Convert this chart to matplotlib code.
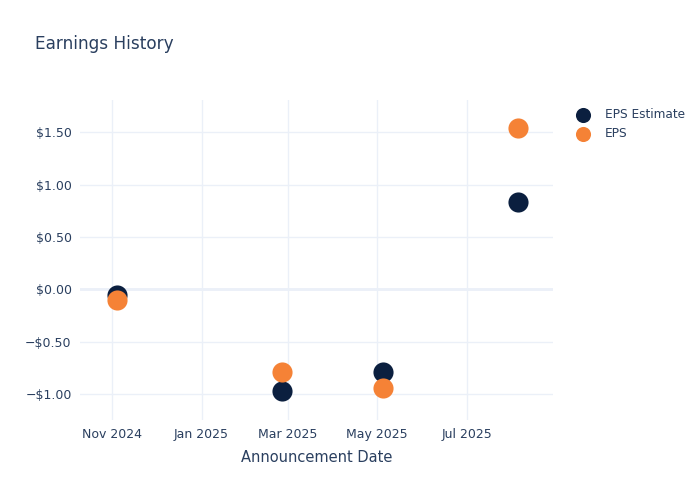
import matplotlib.pyplot as plt
import matplotlib.dates as mdates
import matplotlib.ticker as mticker
import pandas as pd

# earnings data
dates = pd.to_datetime(['2024-11-04', '2025-02-25', '2025-05-05', '2025-08-05'])
eps_estimate = [-0.05, -0.97, -0.79, 0.83]
eps_actual = [-0.10, -0.79, -0.94, 1.54]

NAVY = '#0b1f3f'
ORANGE = '#f58236'
TEXT = '#2a3f5f'
GRID = '#ebf0f8'

fig = plt.figure(figsize=(7, 5), dpi=100)
ax = fig.add_axes([80 / 700, 80 / 500, (553 - 80) / 700, (420 - 100) / 500])

ax.scatter(dates, eps_estimate, s=210, color=NAVY, label='EPS Estimate', zorder=3, linewidths=0)
ax.scatter(dates, eps_actual, s=210, color=ORANGE, label='EPS', zorder=4, linewidths=0)

ax.set_xlim(pd.Timestamp('2024-10-10'), pd.Timestamp('2025-08-29'))
ax.set_ylim(-1.25, 1.81)

ax.xaxis.set_major_locator(mdates.MonthLocator(bymonth=[1, 3, 5, 7, 11]))
ax.xaxis.set_major_formatter(mdates.DateFormatter('%b %Y'))
ax.yaxis.set_major_locator(mticker.MultipleLocator(0.5))
ax.yaxis.set_major_formatter(mticker.FuncFormatter(
    lambda v, p: ('\u2212$%.2f' % abs(v)) if v < -1e-9 else '$%.2f' % abs(v)))

ax.grid(True, color=GRID, linewidth=1, zorder=0)
ax.axhline(0, color=GRID, linewidth=2, zorder=1)
for s in ax.spines.values():
    s.set_visible(False)
ax.tick_params(length=0, labelsize=9, colors=TEXT, pad=6)

ax.set_xlabel('Announcement Date', fontsize=10.5, color=TEXT, labelpad=6)
fig.text(35 / 700, 1 - 44 / 500, 'Earnings History', fontsize=12.2, color=TEXT, va='center')

leg = ax.legend(loc='upper left', bbox_to_anchor=(1.02, 1.0), frameon=False,
                fontsize=8.7, labelcolor=TEXT, handletextpad=0.8, markerscale=0.75,
                borderaxespad=0.3, labelspacing=0.45)

fig.savefig('out.png', dpi=100)
